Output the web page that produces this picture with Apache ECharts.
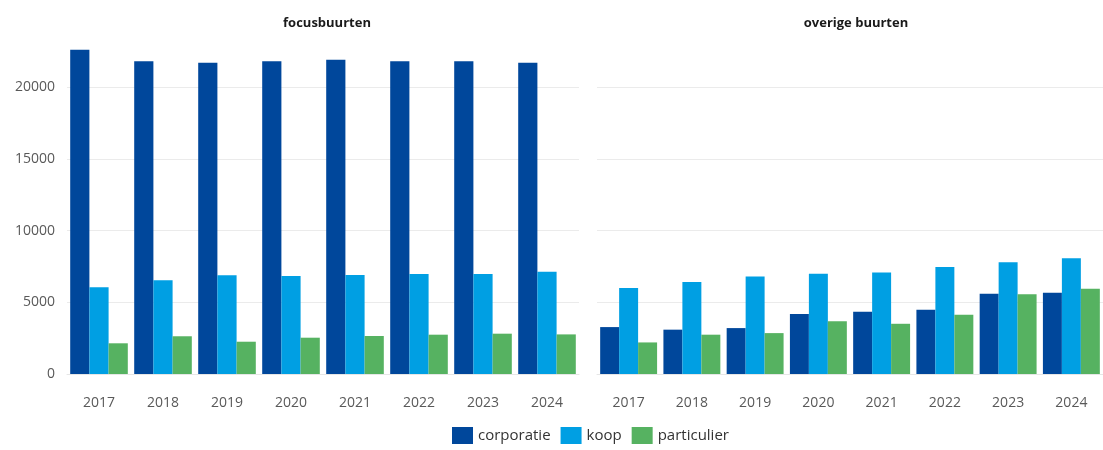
<!DOCTYPE html>
<html>
<head>
<meta charset="utf-8">
<script src="https://cdn.jsdelivr.net/npm/echarts@6/dist/echarts.min.js"></script>
<style>html,body{margin:0;padding:0;background:#fff;}#c{width:1103px;height:450px;}</style>
</head>
<body>
<div id="c"></div>
<script>
const years = ['2017','2018','2019','2020','2021','2022','2023','2024'];
const panelTitles = ['focusbuurten', 'overige buurten'];
const seriesNames = ['corporatie', 'koop', 'particulier'];
const focusCorporatie = [22600, 21800, 21700, 21800, 21900, 21800, 21800, 21700];
const focusKoop = [6040, 6530, 6880, 6830, 6900, 6970, 6970, 7130];
const focusParticulier = [2140, 2630, 2250, 2530, 2650, 2740, 2810, 2760];
const overigCorporatie = [3270, 3090, 3200, 4180, 4340, 4480, 5600, 5670];
const overigKoop = [5990, 6410, 6800, 6990, 7080, 7450, 7780, 8060];
const overigParticulier = [2200, 2740, 2850, 3670, 3500, 4130, 5550, 5950];

const colors = ['#00479B', '#009FE3', '#56B261'];
const font = '"Open Sans", "Liberation Sans", sans-serif';

const grids = [
  {left: 67, width: 512, top: 44, height: 330},
  {left: 597, width: 510, top: 44, height: 330}
];
function xAx(i) {
  return {
    type: 'category', gridIndex: i, data: years,
    axisLine: {show: true, lineStyle: {color: '#e6e6e6'}},
    axisTick: {show: false},
    axisLabel: {color: '#595959', fontSize: 14, fontFamily: font, margin: 22}
  };
}
function yAx(i) {
  return {
    type: 'value', gridIndex: i, min: 0, max: 23000, interval: 5000,
    axisLine: {show: false}, axisTick: {show: false},
    axisLabel: {show: i === 0, color: '#595959', fontSize: 14, fontFamily: font, margin: 12, showMaxLabel: false,
      formatter: v => String(v)},
    splitLine: {show: true, showMaxLine: false, lineStyle: {color: '#ebebeb', width: 1}}
  };
}
const dataSets = [
  [focusCorporatie, focusKoop, focusParticulier],
  [overigCorporatie, overigKoop, overigParticulier]
];
const series = [];
dataSets.forEach((ds, g) => {
  ds.forEach((vals, k) => {
    series.push({
      name: seriesNames[k], type: 'bar', xAxisIndex: g, yAxisIndex: g,
      data: vals, barGap: '0%', barCategoryGap: '10%',
      itemStyle: {color: colors[k]}
    });
  });
});

const chart = echarts.init(document.getElementById('c'), null, {renderer: 'canvas'});
chart.setOption({
  animation: false,
  color: colors,
  title: [
    {text: panelTitles[0], left: 322, top: 12, textAlign: 'center', textStyle: {fontSize: 13, fontWeight: 'bold', color: '#1a1a1a', fontFamily: font}},
    {text: panelTitles[1], left: 851, top: 12, textAlign: 'center', textStyle: {fontSize: 13, fontWeight: 'bold', color: '#1a1a1a', fontFamily: font}}
  ],
  legend: {
    data: seriesNames, bottom: 1, left: 447, itemWidth: 21, itemHeight: 17, itemGap: 10,
    icon: 'rect',
    textStyle: {fontSize: 15, color: '#333', fontFamily: font}
  },
  grid: grids,
  xAxis: [xAx(0), xAx(1)],
  yAxis: [yAx(0), yAx(1)],
  series: series
});
</script>
</body>
</html>
